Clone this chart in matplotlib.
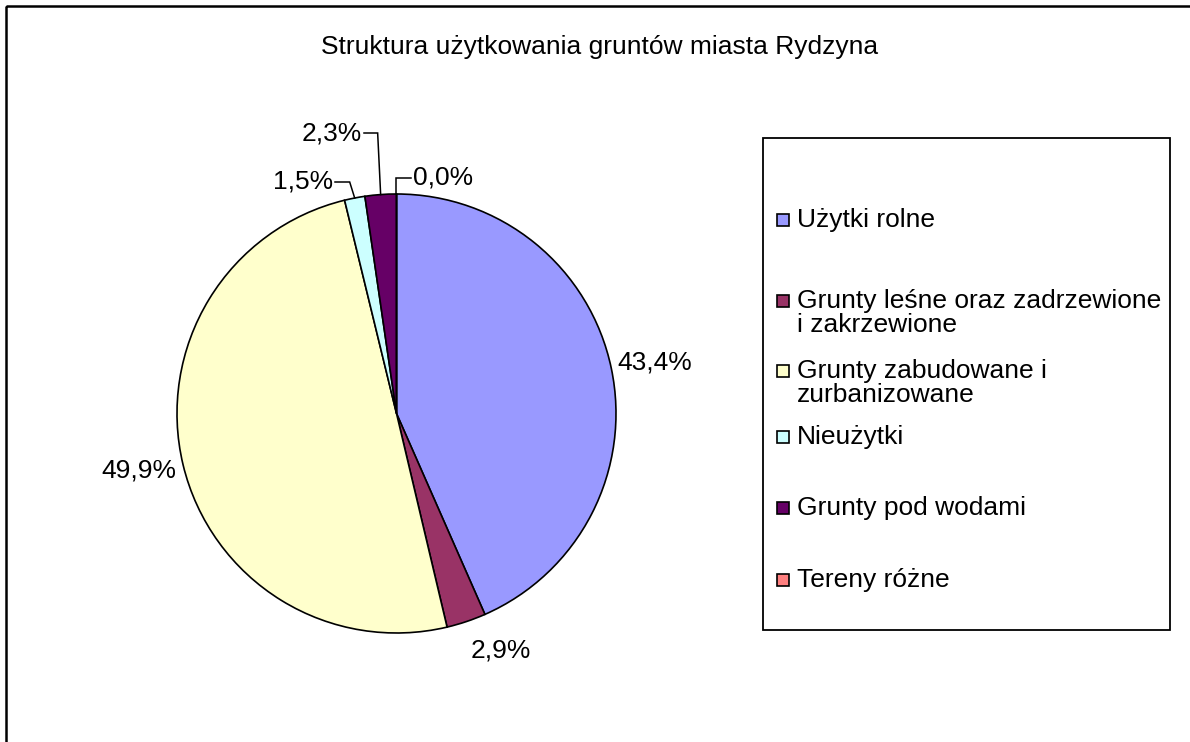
import numpy as np
import matplotlib
matplotlib.use('Agg')
import matplotlib.pyplot as plt
from matplotlib.patches import Rectangle

plt.rcParams['font.family'] = ['Liberation Sans', 'DejaVu Sans']

# Data
title = 'Struktura użytkowania gruntów miasta Rydzyna'
categories = ['Użytki rolne',
              'Grunty leśne oraz zadrzewione\ni zakrzewione',
              'Grunty zabudowane i\nzurbanizowane',
              'Nieużytki',
              'Grunty pod wodami',
              'Tereny różne']
shares = [43.4, 2.9, 49.9, 1.5, 2.3, 0.0]
colors = ['#9999FF', '#993366', '#FFFFCC', '#CCFFFF', '#660066', '#FF8080']

# Layout (pixel space, y grows downwards)
W, H = 1190, 742
cx, cy, R = 396.5, 413.5, 219.5
fs = 19
# label placement: (radius factor, angle nudge in degrees) for plain labels,
# None for labels with a leader line
label_pos = [(1.2, -0.7), (1.18, 5.2), (1.2, -1.0), None, None, None]
# leader labels: (text x, text y, elbow dx, side)
leaders = {3: (333, 182, -5, 'right'),
           4: (362, 133, -3, 'right'),
           5: (413, 178, 0, 'left')}
legend_box = (763, 138, 1170, 630)
legend_y = [220, 313, 383, 437, 508, 580]

fig = plt.figure(figsize=(W / 100, H / 100), dpi=100)
ax = fig.add_axes([0, 0, 1, 1])

# inverted y: visual clockwise from the top = data counterclockwise from -90
wedges, _ = ax.pie(shares, colors=colors, startangle=-90, counterclock=True,
                   radius=R, center=(cx, cy),
                   wedgeprops=dict(edgecolor='black', linewidth=1.2))
ax.set_xlim(0, W)
ax.set_ylim(H, 0)
ax.set_aspect('equal')
ax.axis('off')

ax.text(600, 47, title, fontsize=fs, ha='center', va='center')

total = sum(shares)
start = 90.0
for i, v in enumerate(shares):
    sweep = 360.0 * v / total
    mid = start - sweep / 2.0
    start -= sweep
    txt = ('%.1f%%' % v).replace('.', ',')
    if label_pos[i] is not None:
        k, nudge = label_pos[i]
        a = np.radians(mid + nudge)
        ax.text(cx + k * R * np.cos(a), cy - k * R * np.sin(a), txt,
                fontsize=fs, ha='center', va='center')
    else:
        tx, ty, edx, side = leaders[i]
        a = np.radians(mid)
        ex, ey = cx + R * np.cos(a), cy - R * np.sin(a)
        gap = 2 if side == 'right' else -2
        ax.plot([ex, ex + edx, tx + gap], [ey, ty, ty], color='black',
                lw=1.1, solid_joinstyle='miter')
        ax.text(tx, ty, txt, fontsize=fs, ha=side, va='center')

# legend
x0, y0, x1, y1 = legend_box
ax.add_patch(Rectangle((x0, y0), x1 - x0, y1 - y0, fill=False,
                       edgecolor='black', lw=1.3))
for lab, col, y in zip(categories, colors, legend_y):
    nlines = lab.count('\n') + 1
    top = y - (nlines - 1) * 12
    ax.add_patch(Rectangle((777, top - 6), 12, 12, facecolor=col,
                           edgecolor='black', lw=1.2))
    ax.text(797, y, lab, fontsize=fs, ha='left', va='center',
            linespacing=1.0)

# outer chart border (right/bottom edges run off the image)
ax.add_patch(Rectangle((6, 6), W + 20, H + 20, fill=False,
                       edgecolor='black', lw=1.8, clip_on=False))

fig.savefig('out.png', dpi=100)
